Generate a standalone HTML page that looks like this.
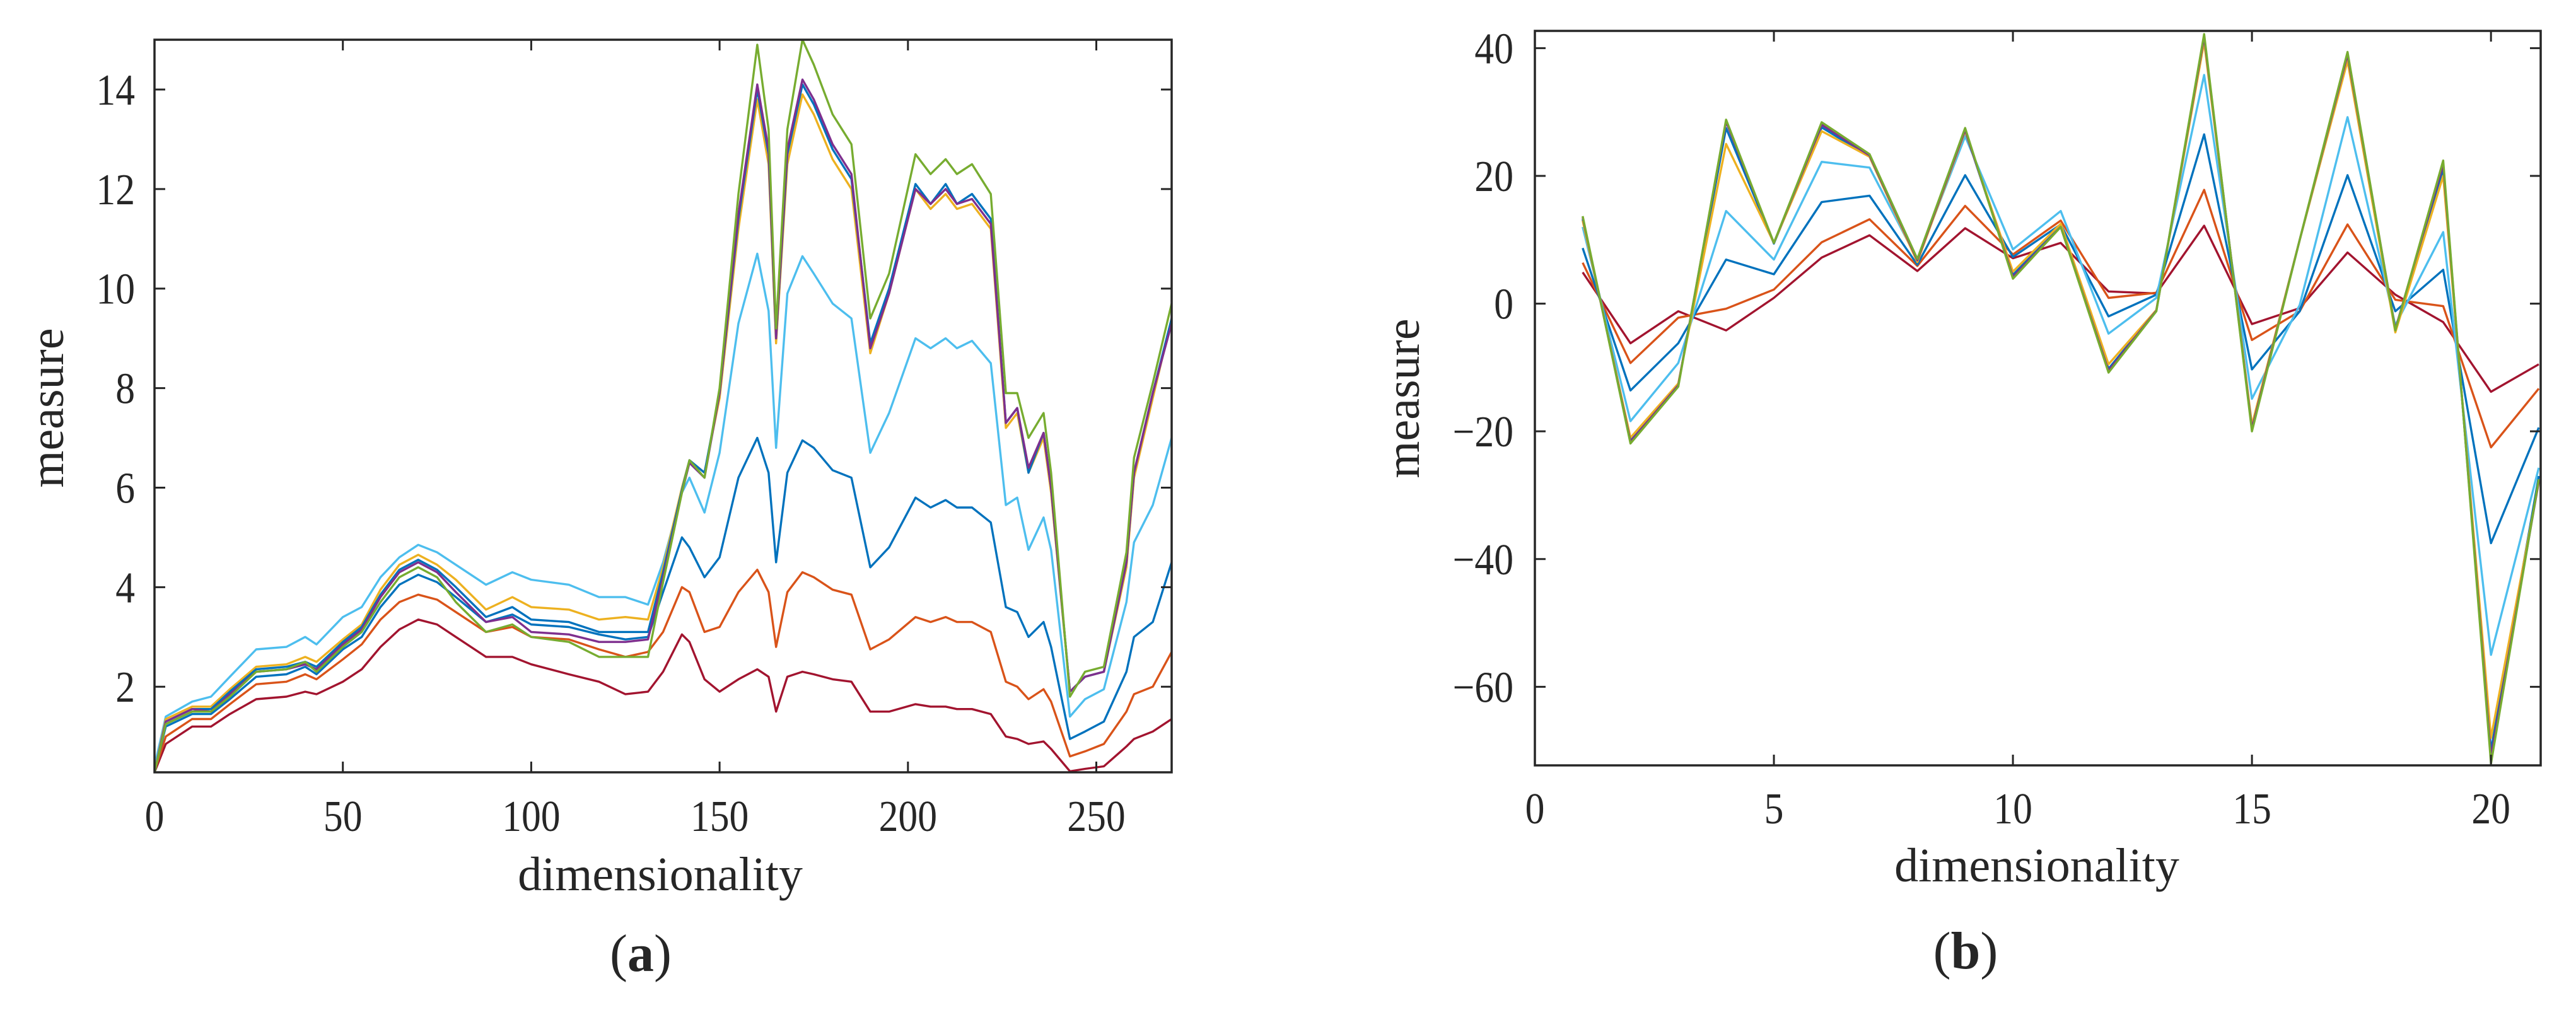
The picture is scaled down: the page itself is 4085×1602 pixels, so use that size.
<!DOCTYPE html>
<html><head><meta charset="utf-8"><style>
html,body{margin:0;padding:0;background:#fff;}
svg{display:block;}
text{font-family:"Liberation Serif",serif;fill:#262626;}
</style></head><body>
<svg id="fig" width="4085" height="1602" viewBox="0 0 4085 1602" xmlns="http://www.w3.org/2000/svg">
<rect width="4085" height="1602" fill="#fff"/>
</svg>
<script>
// ---------- Chart (a) data ----------
const aX = [0,3,10,15,20,27,35,40,43,50,55,60,65,70,75,80,88,95,100,110,118,125,131,135,140,142,146,150,155,160,163,165,168,172,175,180,185,190,195,202,206,210,213,217,222,226,229,232,236,238,243,247,252,258,260,265,270];
const aGreen = [0.27,1.25,1.5,1.5,1.8,2.3,2.35,2.5,2.3,2.8,3.1,3.7,4.2,4.4,4.2,3.7,3.1,3.25,3.0,2.9,2.6,2.6,2.6,4.1,5.9,6.55,6.2,8,11.9,14.9,13.2,9.2,13.2,15,14.5,13.5,12.9,9.4,10.3,12.7,12.3,12.6,12.3,12.5,11.9,7.9,7.9,7,7.5,6.3,1.8,2.3,2.4,4.7,6.6,8.1,9.7];
const aPurple = [0.27,1.3,1.55,1.5,1.85,2.3,2.35,2.45,2.35,2.85,3.15,3.8,4.3,4.5,4.3,3.9,3.3,3.4,3.1,3.05,2.9,2.9,2.95,4.2,5.9,6.5,6.2,7.9,11.5,14.1,12.8,9.0,12.8,14.2,13.8,12.9,12.3,8.8,9.9,12.0,11.7,12.0,11.7,11.8,11.3,7.3,7.6,6.4,7.1,6.0,1.9,2.2,2.3,4.5,6.3,7.9,9.3];
const aBlueTop = [0.27,1.3,1.55,1.55,1.9,2.35,2.4,2.5,2.4,2.9,3.2,3.85,4.35,4.55,4.35,4.0,3.4,3.6,3.35,3.3,3.1,3.1,3.1,4.3,5.95,6.55,6.3,7.9,11.4,14.0,12.7,9.0,12.7,14.1,13.7,12.8,12.2,8.9,10.0,12.1,11.7,12.1,11.7,11.9,11.4,7.3,7.6,6.3,7.1,6.0,1.9,2.2,2.3,4.5,6.3,7.9,9.4];
const aYellow = [0.27,1.35,1.6,1.6,1.95,2.4,2.45,2.6,2.5,2.95,3.25,3.95,4.45,4.65,4.45,4.15,3.55,3.8,3.6,3.55,3.35,3.4,3.35,4.4,6.0,6.55,6.3,7.8,11.2,13.8,12.5,8.9,12.5,13.9,13.5,12.6,12.0,8.7,9.9,12.0,11.6,11.9,11.6,11.7,11.2,7.2,7.5,6.3,7.0,5.9,1.9,2.2,2.3,4.4,6.2,7.8,9.4];
const aLightBlue = [0.4,1.4,1.7,1.8,2.2,2.75,2.8,3.0,2.85,3.4,3.6,4.2,4.6,4.85,4.7,4.45,4.05,4.3,4.15,4.05,3.8,3.8,3.65,4.5,5.9,6.2,5.5,6.7,9.3,10.7,9.55,6.8,9.9,10.65,10.3,9.7,9.4,6.7,7.5,9.0,8.8,9.0,8.8,8.95,8.5,5.65,5.8,4.75,5.4,4.75,1.4,1.75,1.95,3.7,4.9,5.65,7.0];
const aBlueMid = [0.3,1.2,1.45,1.45,1.75,2.2,2.25,2.4,2.25,2.75,3.0,3.6,4.05,4.25,4.1,3.8,3.3,3.45,3.25,3.2,3.05,2.95,3.0,3.9,5.0,4.8,4.2,4.6,6.2,7.0,6.3,4.5,6.3,6.95,6.8,6.35,6.2,4.4,4.8,5.8,5.6,5.75,5.6,5.6,5.3,3.6,3.5,3.0,3.3,2.8,0.95,1.1,1.3,2.3,3.0,3.3,4.5];
const aOrange = [0.3,1.0,1.35,1.35,1.65,2.05,2.1,2.25,2.15,2.55,2.85,3.35,3.7,3.85,3.75,3.5,3.1,3.2,3.0,2.95,2.75,2.6,2.7,3.1,4.0,3.9,3.1,3.2,3.9,4.35,3.9,2.8,3.9,4.3,4.2,3.95,3.85,2.75,2.95,3.4,3.3,3.4,3.3,3.3,3.1,2.1,2.0,1.75,1.95,1.7,0.6,0.7,0.85,1.5,1.85,2.0,2.7];
const aDarkRed = [0.28,0.85,1.2,1.2,1.45,1.75,1.8,1.9,1.85,2.1,2.35,2.8,3.15,3.35,3.25,3.0,2.6,2.6,2.45,2.25,2.1,1.85,1.9,2.3,3.05,2.9,2.15,1.9,2.15,2.35,2.2,1.5,2.2,2.3,2.25,2.15,2.1,1.5,1.5,1.65,1.6,1.6,1.55,1.55,1.45,1.0,0.95,0.85,0.9,0.75,0.3,0.35,0.4,0.8,0.95,1.1,1.35];
const aXTicks = [0,50,100,150,200,250];
const aYTicks = [2,4,6,8,10,12,14];

// ---------- Chart (b) data ----------
const bX = [1,2,3,4,5,6,7,8,9,10,11,12,13,14,15,16,17,18,19,20,21];
const bGreen = [13.7,-21.9,-13,28.8,9.5,28.4,23.4,7,27.5,3.9,12,-10.8,-1.2,42.2,-20,10,39.4,-4.2,22.4,-72,-27.5];
const bPurple = [13.5,-21.6,-12.8,28.5,9.5,28.0,23.2,6.8,27.2,4.2,12,-10.5,-1.1,41.8,-19.6,10,39.0,-4.0,21.8,-71,-27.8];
const bYellow = [13,-21,-12.5,25,9.5,27,23,6.5,27,5,12.5,-9.5,-1,41,-19,10,38,-4.5,20,-68,-28];
const bBlueTop = [13.2,-21.3,-12.7,27.5,9.4,27.6,23,6.6,27,4.5,12.2,-10.2,-1.1,41.5,-19.3,10,38.6,-4.2,21,-70,-27];
const bLightBlue = [12,-18.4,-9.3,14.5,6.9,22.2,21.3,6.9,26.2,8.5,14.5,-4.7,0.9,35.8,-14.9,-0.2,29.2,-3.4,11.2,-55,-25.7];
const bBlue = [8.7,-13.6,-6.2,6.9,4.6,15.9,16.9,6.1,20.1,7.3,12.4,-2,1.4,26.5,-10.3,-1.2,20.1,-1.2,5.3,-37.5,-19.4];
const bOrange = [6.4,-9.3,-2.2,-0.8,2.2,9.6,13.2,5.9,15.3,7.7,13,0.9,1.7,17.8,-5.7,-1.2,12.4,0.6,-0.4,-22.5,-13.3];
const bDarkRed = [4.9,-6.2,-1.2,-4.2,0.9,7.2,10.7,5.1,11.8,7.1,9.5,1.9,1.6,12.2,-3.2,-0.7,8,1.4,-2.9,-13.8,-9.5];
const bXTicks = [0,5,10,15,20];
const bYTicks = [-60,-40,-20,0,20,40];

const NS = 'http://www.w3.org/2000/svg';
const svg = document.getElementById('fig');
function mk(tag, attrs, parent){
  const e = document.createElementNS(NS, tag);
  for (const k in attrs) e.setAttribute(k, attrs[k]);
  (parent||svg).appendChild(e);
  return e;
}

function drawChart(cfg){
  const g = mk('g', {});
  
  
  const sx = v => cfg.L + (v - cfg.xmin) / (cfg.xmax - cfg.xmin) * (cfg.R - cfg.L);
  const sy = v => cfg.B - (v - cfg.ymin) / (cfg.ymax - cfg.ymin) * (cfg.B - cfg.T);
  const cp = mk('clipPath', {id: cfg.name + '-clip'}, g);
  mk('rect', {x: cfg.L, y: cfg.T, width: cfg.R - cfg.L, height: cfg.B - cfg.T}, cp);
  const lines = mk('g', {'clip-path': 'url(#' + cfg.name + '-clip)'}, g);
  
  
  cfg.series.forEach(s => {
    const pts = cfg.x.map((xv, i) => sx(xv).toFixed(1) + ',' + sy(s.values[i]).toFixed(1)).join(' ');
    const pl = mk('polyline', {points: pts, fill: 'none', stroke: s.color, 'stroke-width': 3.4, 'stroke-linejoin': 'round'}, lines);
    
    
  });
  const box = mk('rect', {x: cfg.L, y: cfg.T, width: cfg.R - cfg.L, height: cfg.B - cfg.T, fill: 'none', stroke: '#262626', 'stroke-width': 3.5}, g);
  
  
  const tl = 17;
  cfg.xTicks.forEach(t => {
    const x = sx(t);
    mk('line', {x1: x, y1: cfg.B, x2: x, y2: cfg.B - tl, stroke: '#262626', 'stroke-width': 3}, g);
    mk('line', {x1: x, y1: cfg.T, x2: x, y2: cfg.T + tl, stroke: '#262626', 'stroke-width': 3}, g);
    const tx = mk('text', {x: 0, y: 0, 'text-anchor': 'middle', 'font-size': 70, transform: 'translate(' + x + ',' + cfg.xLabelY + ') scale(0.88,1)'}, g);
    tx.textContent = t;
    
    
  });
  cfg.yTicks.forEach(t => {
    const y = sy(t);
    mk('line', {x1: cfg.L, y1: y, x2: cfg.L + tl, y2: y, stroke: '#262626', 'stroke-width': 3}, g);
    mk('line', {x1: cfg.R, y1: y, x2: cfg.R - tl, y2: y, stroke: '#262626', 'stroke-width': 3}, g);
    const tx = mk('text', {x: 0, y: 0, 'text-anchor': 'end', 'font-size': 70, transform: 'translate(' + cfg.yLabelX + ',' + (y + 24) + ') scale(0.88,1)'}, g);
    tx.textContent = t < 0 ? '\u2212' + Math.abs(t) : t;
    
    
  });
  const xt = mk('text', {x: cfg.xTitleX, y: cfg.xTitleY, 'text-anchor': 'middle', 'font-size': 76}, g);
  xt.textContent = 'dimensionality';
  
  
  const yt = mk('text', {x: 0, y: 0, 'text-anchor': 'middle', 'font-size': 76, transform: 'translate(' + cfg.yTitleX + ',' + cfg.yTitleY + ') rotate(-90)'}, g);
  yt.textContent = 'measure';
  
  
  const cap = mk('text', {x: cfg.capX, y: cfg.capY, 'text-anchor': 'middle', 'font-size': 84}, g);
  cap.innerHTML = '(<tspan font-weight="bold">' + cfg.cap + '</tspan>)';
  
  
}

drawChart({
  name: 'chart-a', L: 245, R: 1858, T: 63, B: 1225,
  xmin: 0, xmax: 270, ymin: 0.28, ymax: 15,
  x: aX, xTicks: aXTicks, yTicks: aYTicks,
  xLabelY: 1318, yLabelX: 214, xTitleX: 1047, xTitleY: 1412, yTitleX: 100, yTitleY: 647,
  capX: 1016, capY: 1540, cap: 'a',
  series: [
    {name: 'series-dark-red', color: '#A2142F', values: aDarkRed},
    {name: 'series-orange', color: '#D95319', values: aOrange},
    {name: 'series-blue-mid', color: '#0072BD', values: aBlueMid},
    {name: 'series-light-blue', color: '#4DBEEE', values: aLightBlue},
    {name: 'series-yellow', color: '#EDB120', values: aYellow},
    {name: 'series-blue-top', color: '#0072BD', values: aBlueTop},
    {name: 'series-purple', color: '#7E2F8E', values: aPurple},
    {name: 'series-green', color: '#77AC30', values: aGreen}
  ]
});

drawChart({
  name: 'chart-b', L: 2434, R: 4029, T: 49, B: 1214,
  xmin: 0, xmax: 21.04, ymin: -72.3, ymax: 42.7,
  x: bX, xTicks: bXTicks, yTicks: bYTicks,
  xLabelY: 1306, yLabelX: 2400, xTitleX: 3230, xTitleY: 1398, yTitleX: 2250, yTitleY: 632,
  capX: 3117, capY: 1536, cap: 'b',
  series: [
    {name: 'series-dark-red', color: '#A2142F', values: bDarkRed},
    {name: 'series-orange', color: '#D95319', values: bOrange},
    {name: 'series-blue', color: '#0072BD', values: bBlue},
    {name: 'series-light-blue', color: '#4DBEEE', values: bLightBlue},
    {name: 'series-blue-top', color: '#0072BD', values: bBlueTop},
    {name: 'series-yellow', color: '#EDB120', values: bYellow},
    {name: 'series-purple', color: '#7E2F8E', values: bPurple},
    {name: 'series-green', color: '#77AC30', values: bGreen}
  ]
});
</script>
</body></html>
